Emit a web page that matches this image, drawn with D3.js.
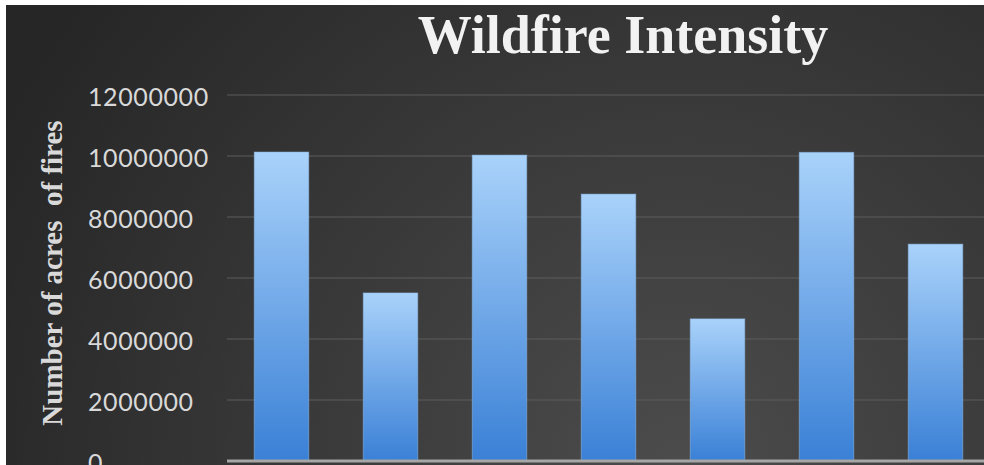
<!DOCTYPE html>
<html>
<head>
<meta charset="utf-8">
<script src="https://cdn.jsdelivr.net/npm/d3@7"></script>
<style>
  body { margin: 0; background: #fff; }
</style>
</head>
<body>
<script>
// data (acres burned per year)
var years = ['2015', '2016', '2017', '2018', '2019', '2020', '2021'];
var acres = [10130000, 5510000, 10030000, 8750000, 4660000, 10120000, 7110000];
var yTicks = [0, 2000000, 4000000, 6000000, 8000000, 10000000, 12000000];
var title = 'Wildfire Intensity';
var yTitle = 'Number of acres  of fires';

var svgWidth = 984;
var svgHeight = 465;
var svg = d3.select('body')
    .append('svg')
    .attr('width', svgWidth)
    .attr('height', svgHeight)
    .style('display', 'block');

var defs = svg.append('defs');

var bg = defs.append('radialGradient')
    .attr('id', 'bg')
    .attr('gradientUnits', 'userSpaceOnUse')
    .attr('cx', 680).attr('cy', 470).attr('r', 760);
bg.append('stop').attr('offset', '0%').attr('stop-color', '#4c4c4c');
bg.append('stop').attr('offset', '100%').attr('stop-color', '#262626');

var barGrad = defs.append('linearGradient')
    .attr('id', 'bar')
    .attr('x1', 0).attr('y1', 0).attr('x2', 0).attr('y2', 1);
barGrad.append('stop').attr('offset', '0%').attr('stop-color', '#a9d2fa');
barGrad.append('stop').attr('offset', '100%').attr('stop-color', '#3a80d6');

// dark chart area, white strip at top and left
svg.append('rect')
    .attr('x', 6).attr('y', 5)
    .attr('width', svgWidth - 6).attr('height', svgHeight - 5)
    .attr('fill', 'url(#bg)');

var x = d3.scaleBand()
    .domain(years)
    .range([227, 990])
    .paddingInner(0.5)
    .paddingOuter(0.25);

var y = d3.scaleLinear()
    .domain([0, 12000000])
    .range([461, 95]);

var g = svg.append('g');

// gridlines
g.selectAll('.grid')
    .data(yTicks.filter(function (d) { return d > 0; }))
    .enter()
    .append('line')
        .attr('class', 'grid')
        .attr('x1', 227).attr('x2', svgWidth)
        .attr('y1', function (d) { return y(d); })
        .attr('y2', function (d) { return y(d); })
        .attr('stroke', '#5c5c5c')
        .attr('stroke-width', 1.2);

// y tick labels (left aligned)
g.selectAll('.ylab')
    .data(yTicks)
    .enter()
    .append('text')
        .attr('class', 'ylab')
        .attr('x', 88)
        .attr('y', function (d) { return y(d) + 2; })
        .attr('dy', '0.35em')
        .attr('fill', '#d9d9d9')
        .style('font-family', 'Lato, "Liberation Sans", sans-serif')
        .style('font-size', '25px')
        .style('letter-spacing', '0.6px')
        .text(function (d) { return d; });

// bars
g.selectAll('.bar')
    .data(acres)
    .enter()
    .append('rect')
        .attr('class', 'bar')
        .attr('x', function (d, i) { return x(years[i]); })
        .attr('width', x.bandwidth())
        .attr('y', function (d) { return y(d); })
        .attr('height', function (d) { return y(0) - y(d); })
        .attr('fill', 'url(#bar)')
        .attr('stroke', '#8fbff0')
        .attr('stroke-opacity', 0.5)
        .attr('stroke-width', 1);

// baseline
g.append('line')
    .attr('x1', 227).attr('x2', svgWidth)
    .attr('y1', y(0)).attr('y2', y(0))
    .attr('stroke', '#a6a6a6')
    .attr('stroke-width', 3);

// category labels fall below the photographed area, as in the original
g.selectAll('.xlab')
    .data(years)
    .enter()
    .append('text')
        .attr('class', 'xlab')
        .attr('x', function (d) { return x(d) + x.bandwidth() / 2; })
        .attr('y', 490)
        .attr('text-anchor', 'middle')
        .attr('fill', '#d9d9d9')
        .style('font-family', 'Lato, sans-serif')
        .style('font-size', '22px')
        .text(function (d) { return d; });

// title
svg.append('text')
    .attr('x', 623)
    .attr('y', 53)
    .attr('text-anchor', 'middle')
    .attr('fill', '#f2f2f2')
    .style('font-family', '"Liberation Serif", serif')
    .style('font-weight', 'bold')
    .style('font-size', '54px')
    .text(title);

// y axis title
svg.append('text')
    .attr('transform', 'translate(62,273) rotate(-90)')
    .attr('text-anchor', 'middle')
    .attr('fill', '#d9d9d9')
    .style('font-family', '"Liberation Serif", serif')
    .style('font-weight', 'bold')
    .style('font-size', '29px')
    .style('white-space', 'pre')
    .text(yTitle);
</script>
</body>
</html>
